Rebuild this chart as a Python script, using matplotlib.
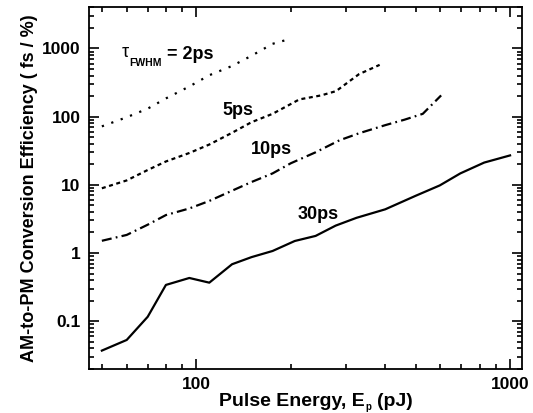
import matplotlib
matplotlib.use("Agg")
import matplotlib.pyplot as plt
from matplotlib.ticker import FixedLocator, FixedFormatter, LogLocator, NullFormatter

plt.rcParams['font.family'] = ['Liberation Sans', 'DejaVu Sans']

# pulse energy (pJ) and AM-to-PM conversion efficiency (fs / %)
e_2ps = [50, 60, 70, 80, 95, 110, 130, 150, 175, 200]
c_2ps = [72, 98, 131, 185, 277, 405, 554, 783, 1170, 1390]

e_5ps = [50, 60, 70, 80, 95, 110, 130, 150, 175, 213, 250, 279, 292, 330, 384]
c_5ps = [8.9, 11.6, 16.5, 22, 29.3, 39, 58, 83, 110, 179, 205, 237, 277, 420, 575]

e_10ps = [50, 60, 70, 80, 95, 110, 130, 150, 175, 200, 240, 286, 330, 400, 460, 527, 603]
c_10ps = [1.51, 1.84, 2.6, 3.6, 4.5, 5.8, 8.2, 11, 14.7, 20.7, 30, 45, 57, 75, 90, 110, 205]

e_30ps = [50, 60, 70, 80, 95, 110, 130, 150, 175, 206, 240, 278, 324, 400, 500, 597, 694, 827, 1000]
c_30ps = [0.037, 0.053, 0.116, 0.34, 0.43, 0.367, 0.684, 0.87, 1.07, 1.5, 1.78, 2.52,
          3.28, 4.37, 6.9, 9.8, 14.7, 21.2, 27.0]

fig = plt.figure(figsize=(5.33, 4.13), dpi=100)
ax = fig.add_axes([0.167, 0.107, 0.812, 0.875])

ax.plot(e_2ps, c_2ps, color='black', lw=1.6, linestyle=(0, (1, 3.5)))
ax.plot(e_5ps, c_5ps, color='black', lw=1.6, linestyle=(0, (1.8, 1.6)))
ax.plot(e_10ps, c_10ps, color='black', lw=1.6, linestyle=(0, (4.5, 1.9, 0.8, 1.9)))
ax.plot(e_30ps, c_30ps, color='black', lw=1.6, linestyle='-')

ax.set_xscale('log')
ax.set_yscale('log')
ax.set_xlim(45.5, 1090)
ax.set_ylim(0.02, 4000)

# ticks inward on every side
ax.xaxis.set_major_locator(FixedLocator([100, 1000]))
ax.xaxis.set_major_formatter(FixedFormatter(['100', '1000']))
ax.xaxis.set_minor_locator(LogLocator(base=10, subs=range(2, 10)))
ax.xaxis.set_minor_formatter(NullFormatter())
ax.yaxis.set_major_locator(FixedLocator([0.1, 1, 10, 100, 1000]))
ax.yaxis.set_major_formatter(FixedFormatter(['0.1', '1', '10', '100', '1000']))
ax.yaxis.set_minor_locator(LogLocator(base=10, subs=range(2, 10)))
ax.yaxis.set_minor_formatter(NullFormatter())
ax.tick_params(which='both', direction='in', top=True, right=True, width=1.2)
ax.tick_params(which='major', length=7, labelsize=12.5, pad=6)
ax.tick_params(which='minor', length=3.5)
for lab in ax.get_xticklabels() + ax.get_yticklabels():
    lab.set_fontweight('bold')
for s in ax.spines.values():
    s.set_linewidth(1.3)

ax.set_ylabel('AM-to-PM Conversion Efficiency ( fs / %)', fontsize=13, fontweight='bold', labelpad=3)

# x label built in pieces, each one placed right after the last
rend = fig.canvas.get_renderer()
W, H = fig.bbox.width, fig.bbox.height
x0 = 219
base = 406.5
t1 = fig.text(x0 / W, 1 - base / H, 'Pulse Energy, E', fontsize=14, fontweight='bold',
              ha='left', va='baseline')
x1 = t1.get_window_extent(rend).x1 + 1
t2 = fig.text(x1 / W, 1 - (base + 4) / H, 'p', fontsize=7, fontweight='bold',
              ha='left', va='baseline')
x2 = t2.get_window_extent(rend).x1 + 5
fig.text(x2 / W, 1 - base / H, '(pJ)', fontsize=14, fontweight='bold', ha='left', va='baseline')

ax.text(58, 870, 'τ', fontsize=13, ha='left', va='center')
ax.text(61, 620, 'FWHM', fontsize=7.5, fontweight='bold', ha='left', va='center')
ax.text(80.5, 820, '= 2ps', fontsize=13, fontweight='bold', ha='left', va='center')
ax.text(136, 123, '5ps', fontsize=13, fontweight='bold', ha='center', va='center')
ax.text(174, 33, '10ps', fontsize=13, fontweight='bold', ha='center', va='center')
ax.text(244, 3.68, '30ps', fontsize=13, fontweight='bold', ha='center', va='center')

fig.savefig('out.png', dpi=100)
